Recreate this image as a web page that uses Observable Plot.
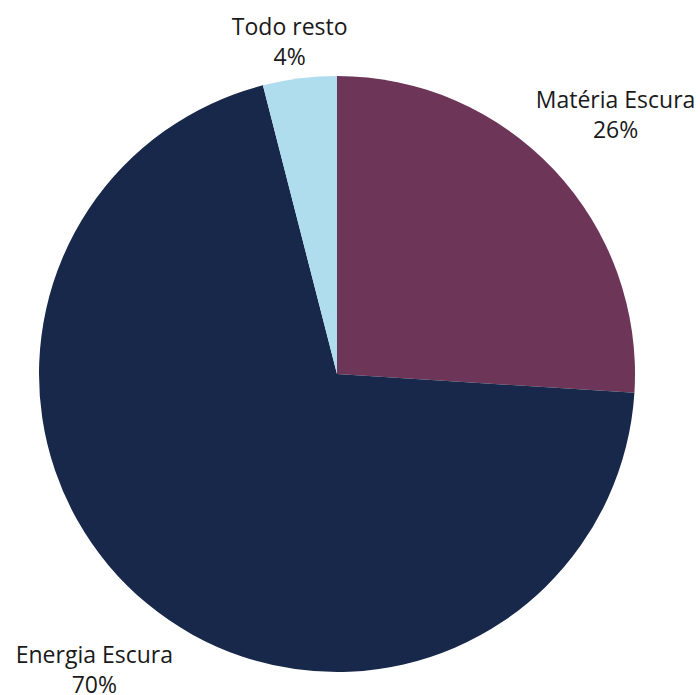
<!DOCTYPE html>
<html>
<head>
<meta charset="utf-8">
<script src="https://cdn.jsdelivr.net/npm/d3@7"></script>
<script src="https://cdn.jsdelivr.net/npm/@observablehq/plot@0.6"></script>
<style>
  html, body { margin: 0; padding: 0; background: #fff; }
  #chart { width: 700px; height: 695px; }
</style>
</head>
<body>
<div id="chart"></div>
<script>
const categories = ["Matéria Escura", "Energia Escura", "Todo resto"];
const shares = [26, 70, 4];
const colors = ["#6d3557", "#17284b", "#b0ddee"];

const pie = d3.pie().sort(null).value(d => d.value)(
  categories.map((name, i) => ({name, value: shares[i], color: colors[i]}))
);

// label anchor positions derived from slice mid-angles (data units, radius = 1)
const labels = pie.map(p => {
  const a = (p.startAngle + p.endAngle) / 2;
  const k = 1.28;
  return {
    name: p.data.name,
    text: `${p.data.name}\n${p.data.value}%`,
    x: k * Math.sin(a),
    y: Math.max(Math.min(k * Math.cos(a), 1.12), -0.985)
  };
});

const wedges = (index, scales, values, dimensions) => {
  const cx = scales.x(0), cy = scales.y(0);
  const r = Math.abs(scales.x(1) - scales.x(0));
  const g = d3.create("svg:g").attr("transform", `translate(${cx},${cy})`);
  const arc = d3.arc().innerRadius(0).outerRadius(r);
  g.selectAll("path").data(pie).join("path")
    .attr("d", arc)
    .attr("fill", d => d.data.color);
  return g.node();
};

const chart = Plot.plot({
  width: 700,
  height: 695,
  marginLeft: 39,
  marginRight: 65,
  marginTop: 76,
  marginBottom: 23,
  x: {domain: [-1, 1], axis: null},
  y: {domain: [-1, 1], axis: null},
  style: {fontFamily: "'Open Sans', sans-serif", background: "#fff"},
  marks: [
    wedges,
    Plot.text(labels, {
      x: "x", y: "y", text: "text",
      fontSize: 23, lineHeight: 1.3, fill: "#1a1a1a"
    })
  ]
});
document.getElementById("chart").appendChild(chart);
</script>
</body>
</html>
